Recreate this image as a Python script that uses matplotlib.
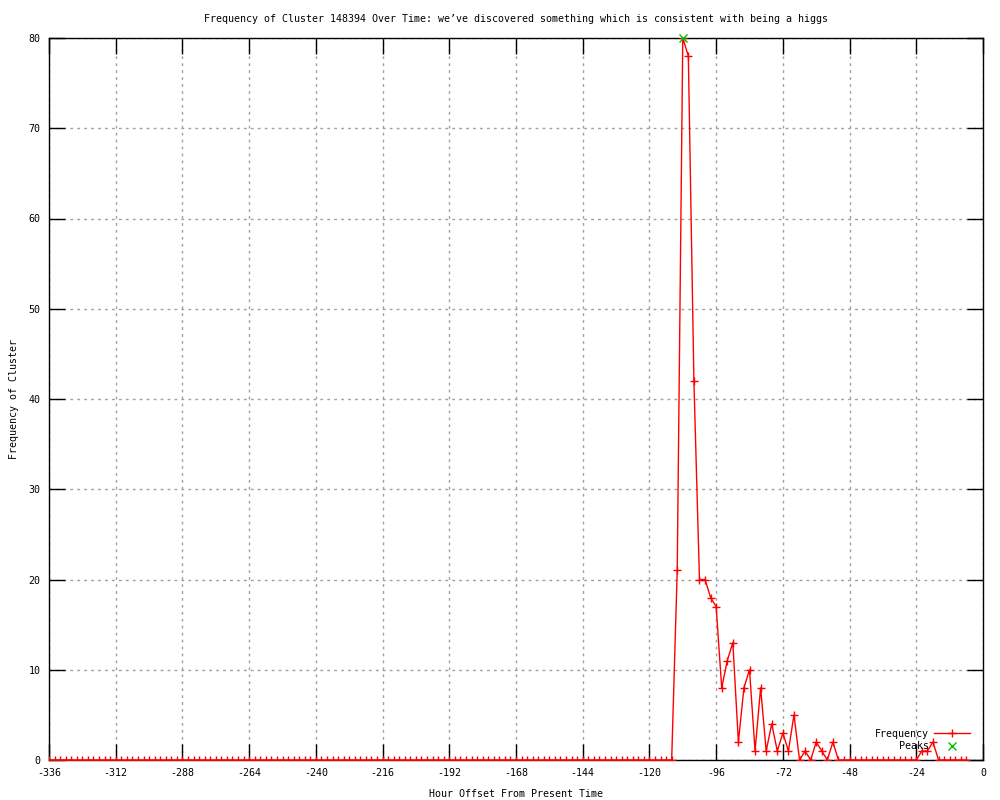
import matplotlib
matplotlib.use("Agg")
import matplotlib.pyplot as plt
import numpy as np

# hours offset from present, sampled every 2 hours
hours = list(range(-336, -4, 2))

# frequency at each sample
freq = ([0] * 113
        + [21, 80, 78, 42, 20, 20, 18, 17, 8, 11, 13, 2, 8, 10, 1, 8,
           1, 4, 1, 3, 1, 5, 0, 1, 0, 2, 1, 0, 2]
        + [0] * 15
        + [1, 1, 2]
        + [0] * 6)

peak_hours = [-108]
peak_vals = [80]

xticks = list(range(-336, 1, 24))
yticks = list(range(0, 81, 10))

title = "Frequency of Cluster 148394 Over Time: we\u2019ve discovered something which is consistent with being a higgs"

plt.rcParams['font.family'] = ['DejaVu Sans Mono']
plt.rcParams['axes.unicode_minus'] = False
fs = 7.2

fig = plt.figure(figsize=(10, 8), dpi=100)
ax = fig.add_axes([0.049, 0.05, 0.934, 0.9025])

ax.plot(hours, freq, color='red', linewidth=1, marker='+', markersize=6,
        markeredgewidth=1, label='Frequency', zorder=3)
ax.plot(peak_hours, peak_vals, linestyle='none', marker='x', color='#00c000',
        markersize=6, markeredgewidth=1, label='Peaks', zorder=4, clip_on=False)

ax.set_xlim(-336, 0)
ax.set_ylim(0, 80)
ax.set_xticks(xticks)
ax.set_yticks(yticks)
ax.tick_params(direction='in', length=11.5, width=1, top=True, right=True,
               labelsize=fs, pad=6)
ax.grid(True, color='#a0a0a0', linestyle=(0, (2, 3)), linewidth=1)
for s in ax.spines.values():
    s.set_linewidth(1)

ax.set_title(title, fontsize=fs, pad=11.5)
ax.set_xlabel("Hour Offset From Present Time", fontsize=fs, labelpad=8)
ax.set_ylabel("Frequency of Cluster", fontsize=fs, labelpad=7)

leg = ax.legend(loc='lower right', bbox_to_anchor=(0.986, 0.012), frameon=False,
                markerfirst=False, fontsize=fs, handlelength=3.6,
                handletextpad=0.5, labelspacing=0.25, borderpad=0,
                borderaxespad=0)

fig.savefig("out.png", dpi=100)
